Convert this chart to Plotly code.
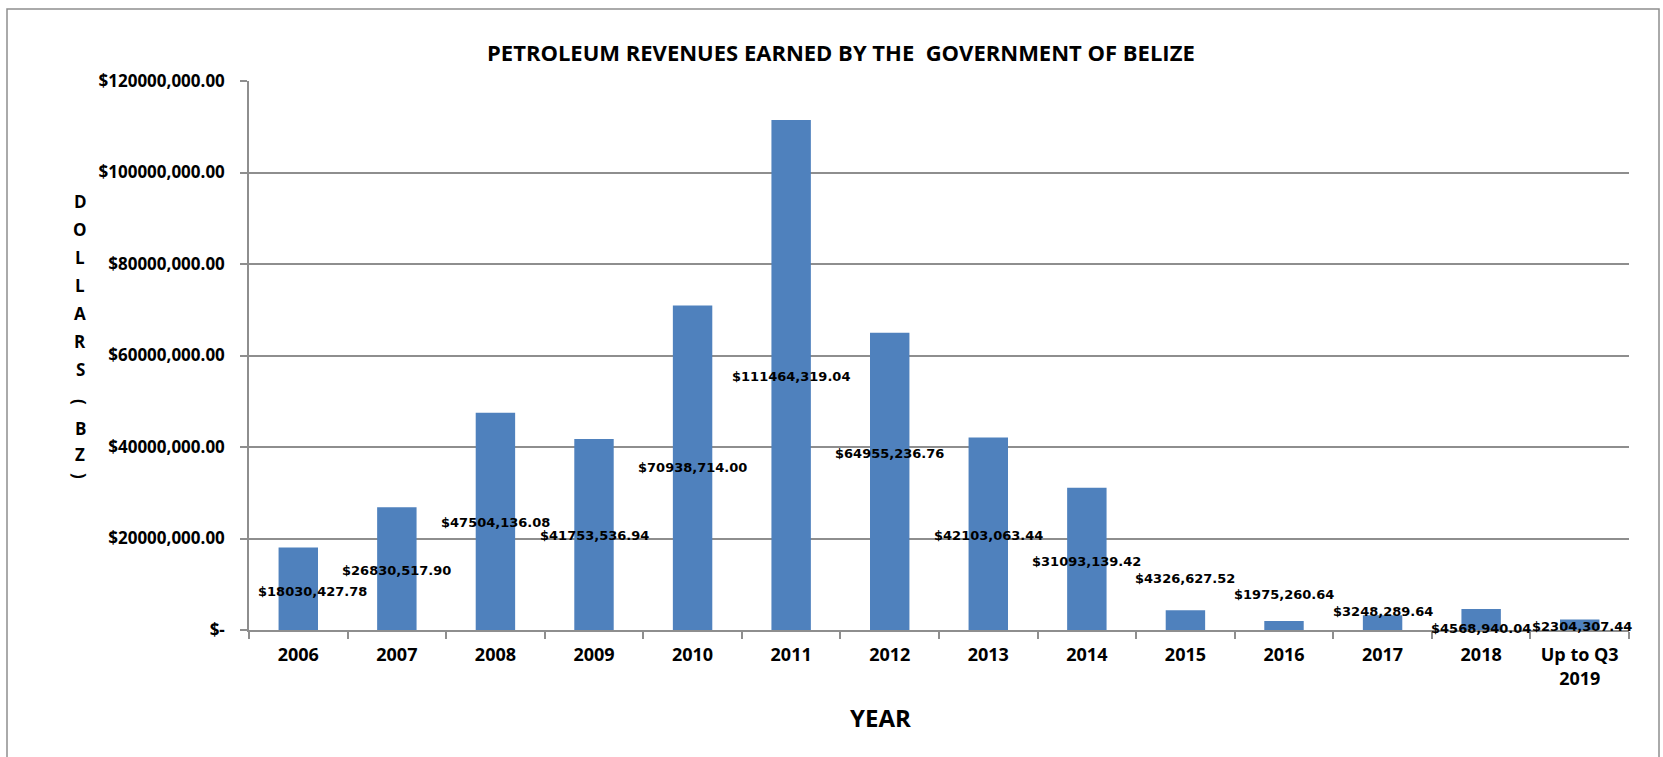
import plotly.graph_objects as go

# ---- data ----
years = ["2006", "2007", "2008", "2009", "2010", "2011", "2012", "2013", "2014",
         "2015", "2016", "2017", "2018", "Up to Q3<br>2019"]
revenues = [18030427.78, 26830517.90, 47504136.08, 41753536.94, 70938714.00,
            111464319.04, 64955236.76, 42103063.44, 31093139.42, 4326627.52,
            1975260.64, 3248289.64, 4568940.04, 2304307.44]
ytick_values = [0, 20e6, 40e6, 60e6, 80e6, 100e6, 120e6]
ytick_labels = ["$-", "$20000,000.00", "$40000,000.00", "$60000,000.00",
                "$80000,000.00", "$100000,000.00", "$120000,000.00"]
title_text = "PETROLEUM REVENUES EARNED BY THE  GOVERNMENT OF BELIZE"
x_title = "YEAR"
y_title_letters = ["D", "O", "L", "L", "A", "R", "S", "(", "B", "Z", ")"]

# label nudges in pixels (manual label placement of the original chart)
label_dx = [14, 0, 0, 0, 0, 0, 0, 0, 0, 0, 0, 0, 0, 2]
label_dy = [-3, -2, -1, -1, 0, -1, 28, -2, -3, 42, 31, 11, -9, -2]


def fmt(v):
    cents = round(v * 100)
    dollars, c = divmod(cents, 100)
    th, rest = divmod(dollars, 1000)
    return f"${th},{rest:03d}.{c:02d}"


# ---- geometry ----
W, H = 1663, 757
L, R, T, B = 249, 34, 81, 127


def px(x):
    return (x - L) / (W - L - R)


def py(y):
    return (H - B - y) / (H - T - B)


GRID = "#8E8E8E"
BAR = "#4F81BD"
FONT = "Open Sans"

fig = go.Figure()
fig.add_trace(go.Bar(x=years, y=revenues, marker=dict(color=BAR, line=dict(width=0)),
                     hoverinfo="skip"))

annotations = []
for i, v in enumerate(revenues):
    annotations.append(dict(
        x=i, y=v / 2, xref="x", yref="y", text=fmt(v), showarrow=False,
        xshift=label_dx[i], yshift=label_dy[i],
        font=dict(family="DejaVu Sans", size=13, color="black", weight="bold"),
    ))

annotations.append(dict(
    x=px(841), y=py(52), xref="paper", yref="paper", text=title_text,
    showarrow=False, xanchor="center", yanchor="middle",
    font=dict(family=FONT, size=22, color="black", weight="bold")))
annotations.append(dict(
    x=px(880), y=py(717), xref="paper", yref="paper", text=x_title,
    showarrow=False, xanchor="center", yanchor="middle",
    font=dict(family=FONT, size=24, color="black", weight="bold")))

letter_y = [201, 229, 257, 285, 313, 341, 369, 402, 428, 455, 476]
for ch, yy in zip(y_title_letters, letter_y):
    annotations.append(dict(
        x=px(80), y=py(yy), xref="paper", yref="paper", text=ch,
        showarrow=False, xanchor="center", yanchor="middle",
        textangle=90 if ch in "()" else 0,
        font=dict(family=FONT, size=17, color="black", weight="bold")))

fig.update_layout(
    width=W, height=H,
    margin=dict(l=L, r=R, t=T, b=B, pad=0),
    paper_bgcolor="white", plot_bgcolor="white",
    showlegend=False, bargap=0.6,
    annotations=annotations,
    shapes=[dict(type="rect", xref="paper", yref="paper",
                 x0=px(7), x1=px(1659), y0=py(820), y1=py(9),
                 line=dict(color=GRID, width=1.5), fillcolor="rgba(0,0,0,0)",
                 layer="below")],
    xaxis=dict(
        type="category", range=[-0.5, len(years) - 0.5],
        showgrid=False, showline=True, linecolor=GRID, linewidth=1.5,
        ticks="outside", ticklen=7, tickcolor=GRID, tickwidth=1.5, tickson="boundaries",
        tickangle=0, ticklabelstandoff=8,
        tickfont=dict(family=FONT, size=18, color="black", weight="bold"),
        fixedrange=True,
    ),
    yaxis=dict(
        range=[0, 120e6], tickvals=ytick_values, ticktext=ytick_labels,
        showgrid=True, gridcolor=GRID, gridwidth=1.5, zeroline=False,
        showline=True, linecolor=GRID, linewidth=1.5,
        ticks="outside", ticklen=7, tickcolor=GRID, tickwidth=1.5,
        ticklabelstandoff=12,
        tickfont=dict(family=FONT, size=17, color="black", weight="bold"),
        fixedrange=True,
    ),
)

fig.write_html("out.html", config={"displayModeBar": False},
               post_script="document.body.style.margin='0';document.body.style.overflow='hidden';")
